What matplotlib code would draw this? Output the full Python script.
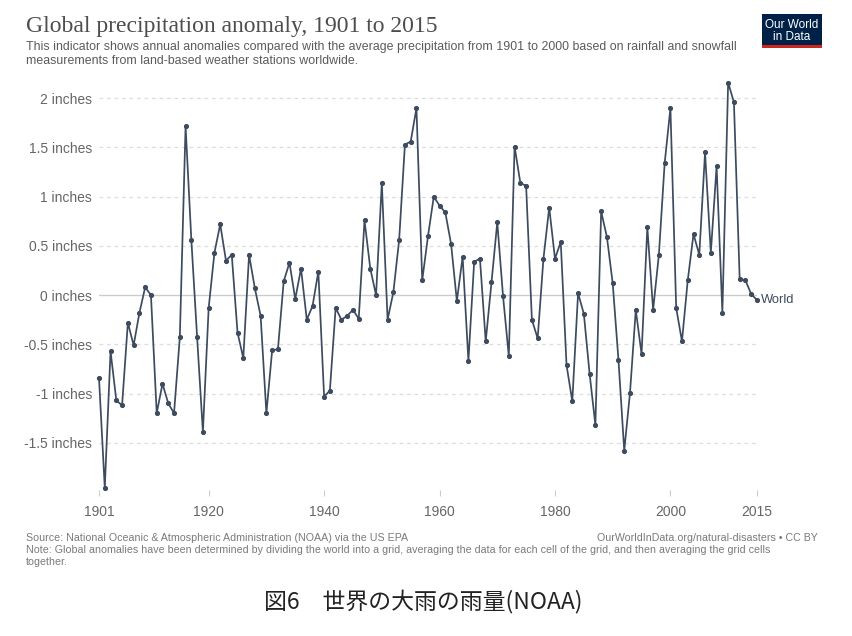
"""Global precipitation anomaly 1901-2015, OWID-style line chart."""
import matplotlib
matplotlib.use("Agg")
import matplotlib.pyplot as plt
from matplotlib.patches import Rectangle

YEARS = list(range(1901, 2016))
ANOMALY = [
    -0.84, -1.96, -0.57, -1.07, -1.12, -0.28, -0.51, -0.18, 0.08, 0.00,   # 1901-1910
    -1.20, -0.90, -1.10, -1.20, -0.43, 1.72, 0.56, -0.43, -1.39, -0.13,   # 1911-1920
    0.43, 0.72, 0.35, 0.41, -0.38, -0.64, 0.41, 0.07, -0.21, -1.20,       # 1921-1930
    -0.56, -0.55, 0.14, 0.33, -0.04, 0.27, -0.25, -0.11, 0.24, -1.03,     # 1931-1940
    -0.97, -0.13, -0.25, -0.21, -0.15, -0.24, 0.76, 0.27, 0.00, 1.14,     # 1941-1950
    -0.25, 0.03, 0.56, 1.53, 1.56, 1.90, 0.15, 0.60, 1.00, 0.91,          # 1951-1960
    0.84, 0.52, -0.06, 0.39, -0.67, 0.34, 0.37, -0.47, 0.13, 0.74,        # 1961-1970
    -0.01, -0.62, 1.51, 1.14, 1.11, -0.25, -0.44, 0.37, 0.89, 0.37,       # 1971-1980
    0.54, -0.71, -1.08, 0.02, -0.19, -0.80, -1.32, 0.85, 0.59, 0.12,      # 1981-1990
    -0.66, -1.58, -0.99, -0.15, -0.60, 0.69, -0.15, 0.41, 1.34, 1.90,     # 1991-2000
    -0.13, -0.47, 0.15, 0.62, 0.41, 1.45, 0.43, 1.31, -0.18, 2.16,        # 2001-2010
    1.96, 0.16, 0.15, 0.01, -0.05,                                        # 2011-2015
]
X_TICKS = [1901, 1920, 1940, 1960, 1980, 2000, 2015]
Y_TICKS = [-1.5, -1, -0.5, 0, 0.5, 1, 1.5, 2]
Y_LABELS = ["-1.5 inches", "-1 inches", "-0.5 inches", "0 inches",
            "0.5 inches", "1 inches", "1.5 inches", "2 inches"]

TITLE = "Global precipitation anomaly, 1901 to 2015"
SUBTITLE = ["This indicator shows annual anomalies compared with the average precipitation from 1901 to 2000 based on rainfall and snowfall",
            "measurements from land-based weather stations worldwide."]
SOURCE = "Source: National Oceanic & Atmospheric Administration (NOAA) via the US EPA"
NOTE = ["Note: Global anomalies have been determined by dividing the world into a grid, averaging the data for each cell of the grid, and then averaging the grid cells",
        "together."]
CREDIT = "OurWorldInData.org/natural-disasters \u2022 CC BY"
CAPTION = "図6\u3000世界の大雨の雨量(NOAA)"

LINE_COLOR = "#3d4b5f"
TEXT_GREY = "#666666"
FOOT_GREY = "#7a7a7a"

plt.rcParams["font.family"] = ["Liberation Sans", "DejaVu Sans"]

W, H = 852, 636
fig = plt.figure(figsize=(W / 100, H / 100), dpi=100)
fig.patch.set_facecolor("white")

def fy(px):
    return 1 - px / H

ax = fig.add_axes([99 / W, fy(490), (757 - 99) / W, (490 - 78.6) / H])
ax.plot(YEARS, ANOMALY, color=LINE_COLOR, lw=1.25, marker="o", ms=2.7, zorder=3, clip_on=False)
ax.set_xlim(1901, 2015)
ax.set_ylim(-1.98, 2.2)

for y in Y_TICKS:
    if y == 0:
        ax.axhline(y, color="#cccccc", lw=1, zorder=1)
    else:
        ax.axhline(y, color="#dddddd", lw=0.9, ls=(0, (3, 3)), zorder=1)

ax.set_xticks(X_TICKS)
ax.set_xticklabels([str(t) for t in X_TICKS])
ax.set_yticks(Y_TICKS)
ax.set_yticklabels(Y_LABELS)
ax.tick_params(axis="x", length=4, width=0.8, color="#cccccc", labelcolor=TEXT_GREY, labelsize=10, pad=7)
ax.tick_params(axis="y", length=0, labelcolor=TEXT_GREY, labelsize=10, pad=5)
for s in ax.spines.values():
    s.set_visible(False)

ax.annotate("World", xy=(YEARS[-1], ANOMALY[-1]), xytext=(3, 0), textcoords="offset points",
            va="center", ha="left", fontsize=9.3, color=LINE_COLOR, annotation_clip=False)

# header
fig.text(26 / W, fy(32), TITLE, family="Liberation Serif", fontsize=17, color="#4d4d4d", va="baseline")
for i, line in enumerate(SUBTITLE):
    fig.text(26 / W, fy(50 + 14 * i), line, fontsize=8.95, color="#5b5b5b", va="baseline")

# logo
fig.patches.append(Rectangle((762 / W, fy(48.3)), 59.5 / W, 34 / H, transform=fig.transFigure,
                             facecolor="#002147", edgecolor="none"))
fig.patches.append(Rectangle((762 / W, fy(48.3)), 59.5 / W, 2.8 / H, transform=fig.transFigure,
                             facecolor="#ce261e", edgecolor="none"))
fig.text(791.7 / W, fy(24.5), "Our World", ha="center", va="center", fontsize=8.5, color="white")
fig.text(791.7 / W, fy(36.5), "in Data", ha="center", va="center", fontsize=8.5, color="white")

# footer
fig.text(26 / W, fy(540.7), SOURCE, fontsize=7.7, color=FOOT_GREY, va="baseline")
fig.text(818 / W, fy(540.7), CREDIT, fontsize=7.7, color=FOOT_GREY, va="baseline", ha="right")
for i, line in enumerate(NOTE):
    fig.text(26 / W, fy(553.3 + 11.4 * i), line, fontsize=7.7, color=FOOT_GREY, va="baseline")
fig.text(423 / W, fy(608), CAPTION, family=["Noto Sans CJK JP", "DejaVu Sans"], fontsize=16.5,
         color="#222222", ha="center", va="baseline")

fig.savefig("out.png", dpi=100)
